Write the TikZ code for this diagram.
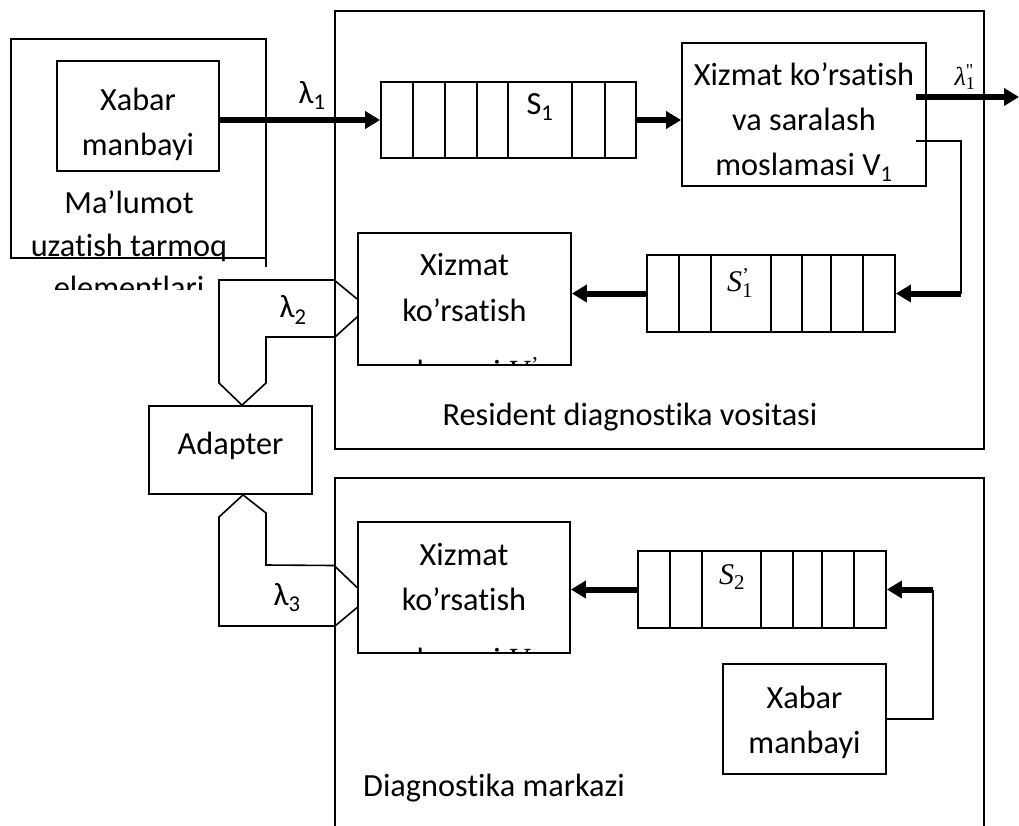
\documentclass[tikz,border=0pt]{standalone}
\usepackage{fontspec}
\setmainfont{Carlito}[Ligatures={NoCommon}]
\newfontfamily\tms{Liberation Serif}
\usetikzlibrary{arrows.meta}

\begin{document}
\begin{tikzpicture}[x=1pt,y=-1pt,
  box/.style={draw, line width=1.8pt, inner sep=0pt},
  frame/.style={line width=1.8pt},
  link/.style={line width=1.6pt, line join=miter},
  flow/.style={line width=6pt, -{Triangle[length=15pt,width=17pt]}},
  txt/.style={font=\fontsize{32.3}{45}\selectfont, align=center, inner sep=0pt},
  eqn/.style={font=\fontsize{30}{36}\selectfont\tms, inner sep=0pt}]
\useasboundingbox (0,0) rectangle (1019,825);

%Shape: network box
\draw[frame] (266,267) -- (266,39) -- (11,39) -- (11,258) -- (266,258);
\node[box, minimum width=162pt, minimum height=110pt] (src1) at (138,116) {};
\node[txt] at (138,124) {Xabar\\manbayi};
% Text Node
\begin{scope}
\clip (0,0) rectangle (330,289);
\node[txt, font=\fontsize{32.3}{42.5}\selectfont] (net) at (129,245) {Ma’lumot\\uzatish tarmoq\\elementlari};
\end{scope}

%Shape: resident box
\node[box, minimum width=649pt, minimum height=438pt] (res) at (659.5,230) {};
\node[txt] at (630,417) {Resident diagnostika vositasi};

%Shape: queue S1
\node[box, minimum width=255pt, minimum height=76pt] (q1) at (508.5,120) {};
\foreach \c in {413,445,477,508,572,605} \draw[frame] (\c,82) -- (\c,158);
\node[txt] at (540,107) {S\textsubscript{1}};

%Shape: V1
\node[box, minimum width=244pt, minimum height=143pt] (V1) at (804,114.5) {};
\node[txt] at (804,122) {Xizmat ko’rsatish\\va saralash\\moslamasi V\textsubscript{1}};

%Shape: queue S1'
\node[box, minimum width=248pt, minimum height=77pt] (q1p) at (771,293.5) {};
\foreach \c in {679,711,771,802,831,863} \draw[frame] (\c,255) -- (\c,332);
\node[eqn] at (740,283) {\textit{S}\rlap{\textsuperscript{’}}\textsubscript{1}};

%Shape: V1'
\node[box, minimum width=213pt, minimum height=132pt] (V1p) at (464.5,299) {};
\node[txt] at (464.5,287.5) {Xizmat\\ko’rsatish};
\begin{scope}
\clip ([yshift=1pt]V1p.south west) rectangle (V1p.north east);
\node[txt, anchor=base] at (452,382) {moslamasi {\tms\textit{V}\rlap{\textsuperscript{’}}\textsubscript{1}}};
\end{scope}

%Shape: adapter
\node[box, minimum width=163pt, minimum height=88pt] (adp) at (230.5,450) {};
\node[txt] at (230.5,446) {Adapter};

%Shape: diagnostics centre
\draw[frame] (335,830) -- (335,478) -- (984,478) -- (984,830);
\node[txt, anchor=west] at (363,788) {Diagnostika markazi};

%Shape: V
\node[box, minimum width=212pt, minimum height=131pt] (V2) at (464,587.5) {};
\node[txt] at (464,576.5) {Xizmat\\ko’rsatish};
\begin{scope}
\clip ([yshift=1pt]V2.south west) rectangle (V2.north east);
\node[txt, anchor=base] at (452,670) {moslamasi {\tms\textit{V}\textsubscript{2}}};
\end{scope}

%Shape: queue S2
\node[box, minimum width=248pt, minimum height=77pt] (q2) at (762,589.5) {};
\foreach \c in {670,702,761,793,822,854} \draw[frame] (\c,551) -- (\c,628);
\node[eqn] at (732,577) {\textit{S}\textsubscript{2}};

%Shape: source 2
\node[box, minimum width=163pt, minimum height=110pt] (src2) at (804.5,719) {};
\node[txt] at (804.5,722) {Xabar\\manbayi};

% flows
\coordinate (out) at (1019,97);
\coordinate (ret1) at (961,293.5);
\coordinate (ret2) at (933,589.5);
\draw[flow] (src1.east |- q1) -- (q1.west);
\draw[flow] (q1.east) -- (V1.west |- q1);
\draw[flow] ([xshift=-11pt]V1.east |- out) -- (out);
\draw[link] ([xshift=-11pt,yshift=-26.5pt]V1.east) -| (ret1);
\draw[flow] (ret1) -- (q1p.east);
\draw[flow] (q1p.west) -- (V1p.east |- q1p);
\draw[link] (src2.east) -| (ret2);
\draw[flow] (ret2) -- (q2.east);
\draw[flow] (q2.west) -- (V2.east |- q2);

%Shape: adapter links
\draw[link] (V1p.west) -- ++(-23,-19) -- (219,280) -- (219,383) -- ([xshift=11.5pt]adp.north)
  -- (266,383) -- (266,337) -- (335,337) -- ([yshift=-18pt]V1p.west);
\draw[link] (V2.west) -- ++(-23,-22) -- (266,565) -- (266,513) -- ([xshift=12.5pt]adp.south)
  -- (219,517) -- (219,626) -- (335,626) -- ([yshift=-20pt]V2.west);

% Text Node
\node[txt] at (312,95) {λ\textsubscript{1}};
\node[txt] at (293,310) {λ\textsubscript{2}};
\node[txt] at (287,598) {λ\textsubscript{3}};
\node[eqn, font=\fontsize{26}{30}\selectfont\tms] at (965,77) {\textit{λ}\rlap{\textsuperscript{"}}\textsubscript{1}};

\end{tikzpicture}
\end{document}
